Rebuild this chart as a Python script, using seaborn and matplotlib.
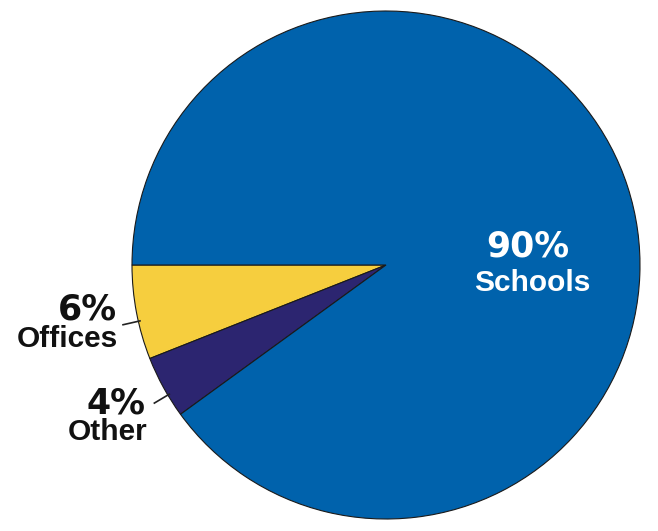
import matplotlib

matplotlib.use("Agg")
import matplotlib.pyplot as plt
import numpy as np
import seaborn as sns

categories = ["Offices", "Other", "Schools"]
shares = [6, 4, 90]
pct_labels = ["6%", "4%", "90%"]
colors = ["#F6CE3E", "#2C2570", "#0062AC"]

sns.set_theme(style="white")
plt.rcParams["font.family"] = ["Liberation Sans", "DejaVu Sans"]

fig = plt.figure(figsize=(6.58, 5.31), dpi=100)
ax = fig.add_axes([0, 0, 1, 1])

wedges, _ = ax.pie(
    shares,
    colors=sns.color_palette(colors),
    startangle=180,
    counterclock=True,
    radius=1.0,
    wedgeprops=dict(edgecolor="#1a1a1a", linewidth=0.8),
)

# circle radius 254 px, centre at (386, 265) px
ax.set_aspect("auto")
ax.set_xlim(-386 / 254, (658 - 386) / 254)
ax.set_ylim(-(531 - 265) / 254, 265 / 254)
ax.axis("off")

# leader lines for the two small slices
for w in wedges[:2]:
    mid = np.deg2rad((w.theta1 + w.theta2) / 2 + 2)
    ax.plot(
        [np.cos(mid) * 0.99, np.cos(mid) * 1.065],
        [np.sin(mid) * 0.99, np.sin(mid) * 1.065],
        color="#222222",
        lw=1.2,
        solid_capstyle="butt",
    )

label_pos = {
    "Offices": (-1.06, -0.2165, -0.323),
    "Other": (-0.945, -0.583, -0.689),
}
for name, pct in zip(categories[:2], pct_labels[:2]):
    x, yp, yn = label_pos[name]
    ax.text(x, yp, pct, ha="right", va="baseline", fontsize=25,
            fontweight="bold", family=["DejaVu Sans"], color="#111111")
    ax.text(x + 0.005, yn, name, ha="right", va="baseline", fontsize=21.5,
            fontweight="bold", color="#111111")

ax.text(0.559, 0.0315, pct_labels[2], ha="center", va="baseline", fontsize=25,
        fontweight="bold", family=["DejaVu Sans"], color="white")
ax.text(0.575, -0.102, categories[2], ha="center", va="baseline", fontsize=21.5,
        fontweight="bold", color="white")

fig.savefig("out.png", dpi=100)
